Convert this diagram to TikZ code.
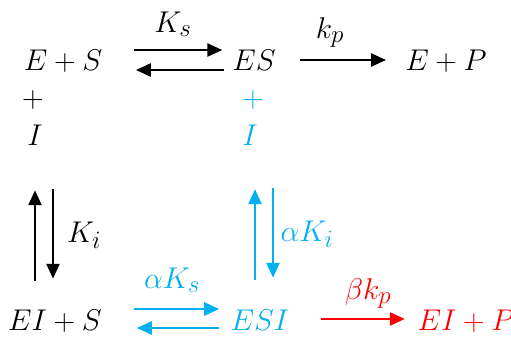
\documentclass[tikz,border=0pt]{standalone}
\usetikzlibrary{arrows.meta}
\definecolor{skyblue}{HTML}{00B0F0}
\definecolor{rxnred}{HTML}{FF0000}
\tikzset{
 species/.style={inner sep=0pt,anchor=base,scale=1.2057,text height=17pt,text depth=2.07pt},
 rxn/.style={line width=2.4pt,-{Triangle[length=15pt,width=13pt]}}
}
\begin{document}
\begin{tikzpicture}[x=1pt,y=-1pt,font=\Huge]
\useasboundingbox (0,0) rectangle (511,338);
% species
\node[species] (es) at (63,70) {$E+S$};
\node[species] (plusA) at (33,107.5) {$+$};
\node[species] (iA) at (35,145) {$I$};
\node[species] (esc) at (254,70) {$ES$};
\node[species,skyblue] (plusB) at (253,107.5) {$+$};
\node[species,skyblue] (iB) at (250,145) {$I$};
\node[species] (ep) at (446,70) {$E+P$};
\node[species] (eis) at (55,330) {$EI+S$};
\node[species,skyblue] (esi) at (260,330) {$ESI$};
\node[species,rxnred] (eip) at (466,330) {$EI+P$};
% rate labels
\node[species] (ks) at (173,32) {$K_s$};
\node[species] (kp) at (330,38) {$k_p$};
\node[species] (ki) at (84,242) {$K_i$};
\node[species,skyblue] (aki) at (307,241) {$\alpha K_i$};
\node[species,skyblue] (aks) at (172,288) {$\alpha K_s$};
\node[species,rxnred] (bkp) at (368,299) {$\beta k_p$};
% top row
\draw[rxn] ([xshift=31.5pt,yshift=11pt]es.east) -- ([xshift=-9.75pt,yshift=11pt]esc.west);
\draw[rxn] ([xshift=-7.75pt,yshift=-9pt]esc.west) -- ([xshift=33.5pt,yshift=-9pt]es.east);
\draw[rxn] ([xshift=23.75pt,yshift=1pt]esc.east) -- ([xshift=-19pt,yshift=1pt]ep.west);
% vertical
\draw[rxn] ([xshift=-20pt,yshift=28.5pt]eis.north) -- ([yshift=-42.5pt]iA.south);
\draw[rxn] ([xshift=18pt,yshift=-41.5pt]iA.south) -- ([xshift=-2pt,yshift=30.5pt]eis.north);
\draw[rxn,skyblue] ([xshift=-5pt,yshift=29.5pt]esi.north) -- ([xshift=5pt,yshift=-41.5pt]iB.south);
\draw[rxn,skyblue] ([xshift=23pt,yshift=-40.5pt]iB.south) -- ([xshift=13pt,yshift=31.5pt]esi.north);
% bottom row
\draw[rxn,skyblue] ([xshift=31.8pt,yshift=12pt]eis.east) -- ([xshift=-11.2pt,yshift=12pt]esi.west);
\draw[rxn,skyblue] ([xshift=-11.2pt,yshift=-7pt]esi.west) -- ([xshift=34.8pt,yshift=-7pt]eis.east);
\draw[rxn,rxnred] ([xshift=31.15pt,yshift=2pt]esi.east) -- ([xshift=-12.5pt,yshift=2pt]eip.west);
\end{tikzpicture}
\end{document}
